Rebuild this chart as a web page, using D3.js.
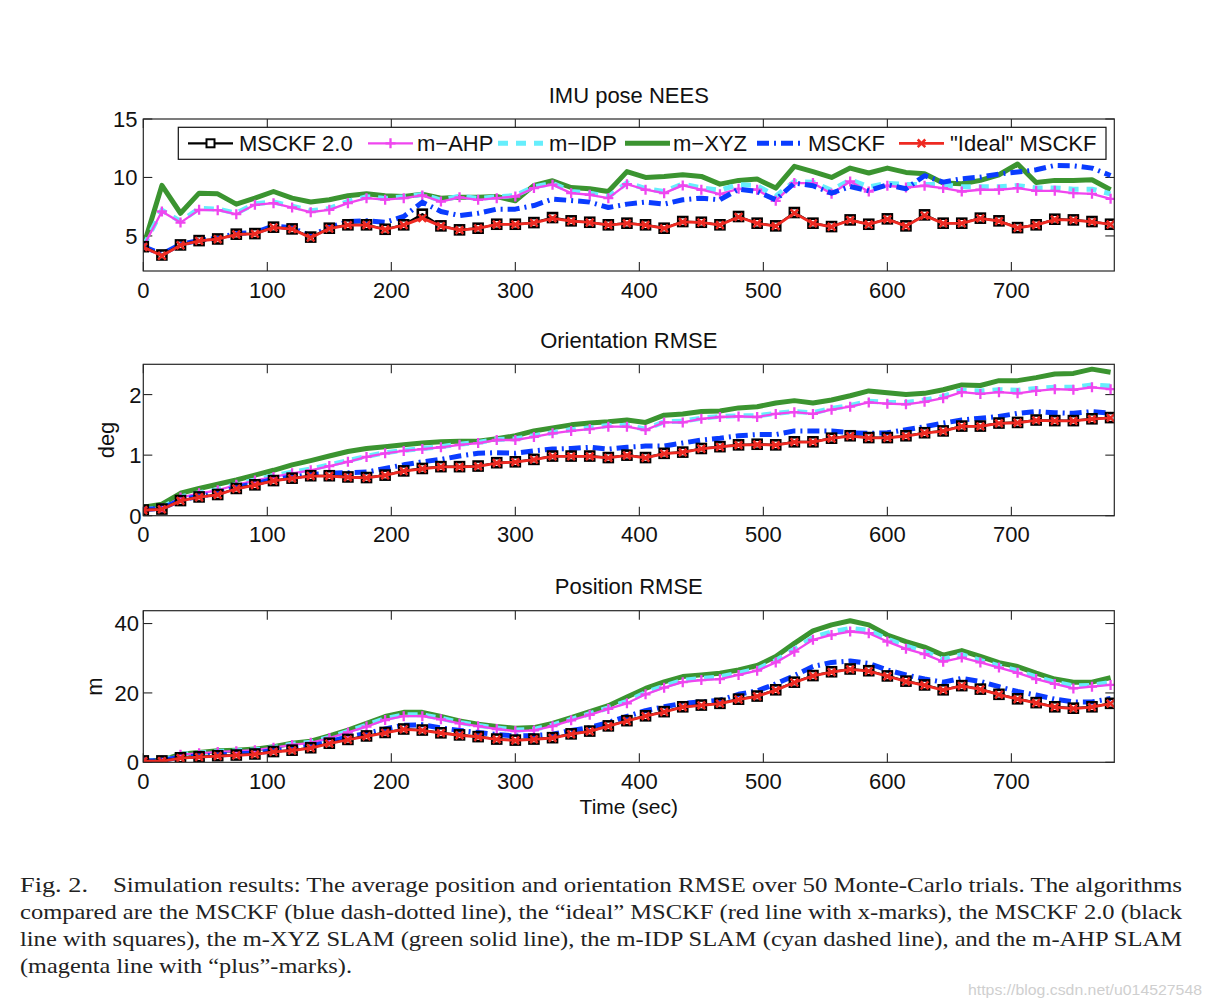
<!DOCTYPE html>
<html><head><meta charset="utf-8">
<script src="https://cdn.jsdelivr.net/npm/d3@7"></script>
<style>body{margin:0;background:#fff} svg{display:block}</style>
</head><body>
<svg id="c" width="1212" height="1006"></svg>
<script>
// ---------------- DATA ----------------
const times = [0,15,30,45,60,75,90,105,120,135,150,165,180,195,210,225,240,255,270,285,300,315,330,345,360,375,390,405,420,435,450,465,480,495,510,525,540,555,570,585,600,615,630,645,660,675,690,705,720,735,750,765,780];
const xTicks = [0,100,200,300,400,500,600,700];
const neesTicks = [5,10,15];
const oriTicks = [0,1,2];
const posTicks = [0,20,40];
const seriesNames = ["MSCKF 2.0","m\u2212AHP","m\u2212IDP","m\u2212XYZ","MSCKF","\"Ideal\" MSCKF"];

// IMU pose NEES
const neesMSCKF2 = [4.08,3.37,4.23,4.6,4.74,5.15,5.2,5.75,5.6,4.9,5.66,5.95,5.95,5.57,5.95,6.86,5.86,5.52,5.66,6.0,6.0,6.14,6.57,6.29,6.17,5.95,6.09,5.95,5.66,6.23,6.17,5.95,6.66,6.09,5.86,7.0,6.09,5.8,6.37,6.0,6.46,5.86,6.8,6.09,6.09,6.52,6.29,5.71,5.95,6.43,6.37,6.23,6.0];
const neesAHP = [4.08,7.09,6.14,7.23,7.2,6.86,7.66,7.8,7.43,7.03,7.23,7.8,8.23,8.1,8.23,8.46,7.94,8.3,8.09,8.23,8.37,9.09,9.38,8.66,8.52,8.23,9.43,8.95,8.66,9.32,8.95,8.57,9.03,8.95,8.0,9.52,9.52,8.6,9.66,8.8,9.29,9.14,9.29,9.09,8.8,8.95,8.95,9.09,8.86,8.86,8.66,8.6,8.17];
const neesIDP = [4.08,7.2,6.25,7.35,7.3,6.95,7.75,7.9,7.55,7.15,7.35,7.95,8.35,8.2,8.35,8.55,8.05,8.4,8.2,8.35,8.45,9.2,9.5,8.8,8.65,8.35,9.55,9.05,8.8,9.45,9.1,8.9,9.4,9.3,8.4,9.65,9.6,8.9,9.8,9.2,9.5,9.4,9.4,9.4,9.2,9.2,9.2,9.3,9.1,9.1,9.0,9.0,8.6];
const neesXYZ = [4.08,9.32,6.94,8.66,8.6,7.72,8.23,8.8,8.23,7.9,8.09,8.43,8.6,8.43,8.37,8.57,8.23,8.3,8.3,8.37,8.0,9.32,9.72,9.14,9.03,8.8,10.5,10.0,10.09,10.23,10.09,9.43,9.75,9.86,9.09,10.95,10.5,10.0,10.8,10.38,10.8,10.43,10.32,9.52,9.46,9.75,10.23,11.15,9.57,9.75,9.75,9.8,8.95];
const neesMSCKF = [4.08,3.45,4.28,4.62,4.8,5.2,5.3,5.85,5.7,5.0,5.72,6.23,6.3,6.17,6.66,7.89,7.09,6.74,6.94,7.29,7.29,7.6,8.15,8.03,7.89,7.43,7.72,7.89,7.72,8.09,8.23,8.09,9.0,8.8,8.09,9.52,9.29,8.66,9.23,8.86,9.38,9.03,10.15,9.6,9.89,10.03,10.29,10.46,10.66,11.03,11.0,10.8,10.17];
const neesIdeal = [4.05,3.3,4.2,4.58,4.72,5.12,5.18,5.72,5.58,4.85,5.63,5.92,5.93,5.55,5.92,6.52,5.84,5.5,5.64,5.98,5.98,6.12,6.5,6.27,6.15,5.93,6.07,5.93,5.64,6.2,6.15,5.93,6.62,6.07,5.84,6.95,6.07,5.78,6.35,5.98,6.43,5.84,6.75,6.07,6.07,6.5,6.27,5.69,5.93,6.4,6.35,6.2,5.98];

// Orientation RMSE (deg)
const oriMSCKF2 = [0.094,0.11,0.25,0.31,0.35,0.45,0.51,0.58,0.62,0.66,0.66,0.64,0.63,0.67,0.74,0.78,0.81,0.81,0.82,0.875,0.89,0.93,0.985,0.985,0.985,0.96,1.0,0.96,1.03,1.05,1.11,1.14,1.17,1.18,1.17,1.22,1.22,1.28,1.32,1.29,1.29,1.32,1.37,1.40,1.48,1.48,1.53,1.54,1.58,1.57,1.57,1.60,1.62];
const oriAHP = [0.094,0.12,0.30,0.37,0.42,0.51,0.58,0.64,0.70,0.75,0.82,0.89,0.97,1.03,1.07,1.10,1.13,1.17,1.20,1.25,1.25,1.30,1.36,1.40,1.43,1.47,1.47,1.415,1.54,1.54,1.60,1.63,1.64,1.63,1.68,1.71,1.68,1.75,1.80,1.87,1.85,1.84,1.88,1.94,2.04,2.01,2.04,2.02,2.06,2.09,2.08,2.12,2.09];
const oriIDP = [0.1,0.13,0.31,0.38,0.43,0.52,0.59,0.66,0.72,0.77,0.84,0.91,0.98,1.04,1.08,1.11,1.14,1.18,1.21,1.26,1.27,1.32,1.37,1.42,1.45,1.49,1.49,1.43,1.55,1.56,1.61,1.64,1.65,1.65,1.69,1.72,1.70,1.77,1.82,1.89,1.87,1.87,1.91,1.97,2.07,2.06,2.08,2.07,2.10,2.12,2.12,2.16,2.14];
const oriXYZ = [0.14,0.19,0.37,0.45,0.52,0.59,0.67,0.75,0.84,0.91,0.985,1.06,1.11,1.14,1.17,1.20,1.22,1.23,1.23,1.27,1.32,1.40,1.45,1.50,1.53,1.55,1.58,1.54,1.66,1.68,1.72,1.73,1.78,1.80,1.86,1.90,1.86,1.91,1.98,2.06,2.03,2.00,2.02,2.08,2.16,2.15,2.23,2.23,2.28,2.34,2.35,2.42,2.37];
const oriMSCKF = [0.1,0.12,0.26,0.32,0.37,0.47,0.53,0.6,0.64,0.68,0.70,0.71,0.72,0.78,0.84,0.89,0.93,0.985,1.03,1.04,1.03,1.07,1.10,1.11,1.13,1.10,1.13,1.15,1.15,1.20,1.25,1.28,1.32,1.34,1.34,1.40,1.40,1.40,1.37,1.36,1.37,1.42,1.47,1.53,1.58,1.61,1.64,1.69,1.72,1.70,1.69,1.72,1.69];
const oriIdeal = [0.09,0.105,0.245,0.305,0.345,0.445,0.505,0.575,0.615,0.655,0.655,0.635,0.625,0.665,0.735,0.775,0.805,0.805,0.815,0.87,0.885,0.925,0.98,0.98,0.98,0.955,0.995,0.955,1.025,1.045,1.105,1.135,1.165,1.175,1.165,1.215,1.215,1.275,1.315,1.285,1.285,1.315,1.365,1.395,1.475,1.475,1.525,1.535,1.575,1.565,1.565,1.595,1.615];

// Position RMSE (m)
const posMSCKF2 = [0.4,0.4,1.3,1.6,1.9,2.1,2.4,3.1,3.5,4.2,5.5,6.6,7.6,8.6,9.6,9.3,8.5,7.9,7.4,6.7,6.4,6.7,7.1,8.2,9.0,10.5,12.0,13.4,14.6,16.0,16.5,17.0,18.2,19.1,20.9,23.1,25.0,26.1,26.9,26.4,24.9,23.4,22.3,20.9,22.1,21.1,19.6,18.3,17.2,16.0,15.6,16.0,17.0];
const posAHP = [0.4,0.5,2.2,2.6,3.0,3.2,3.5,4.2,5.0,5.6,7.0,8.6,10.3,12.2,13.3,13.3,12.4,11.2,10.4,9.6,9.0,9.2,10.4,12.1,13.7,15.4,17.0,19.6,21.5,23.1,23.7,24.0,25.2,26.4,28.8,31.9,35.3,36.7,37.7,37.2,34.8,32.7,31.2,29.0,30.2,28.8,27.3,25.8,24.0,22.6,21.3,21.8,22.3];
const posIDP = [0.4,0.55,2.25,2.7,3.1,3.3,3.6,4.3,5.2,5.8,7.2,8.9,10.7,12.6,13.7,13.7,12.7,11.5,10.6,9.9,9.3,9.5,10.7,12.4,14.0,15.7,17.6,20.1,22.0,23.6,24.2,24.6,25.7,26.9,29.3,32.6,36.0,37.6,38.6,38.0,35.5,33.5,31.9,29.7,31.0,29.4,27.8,26.4,24.6,23.1,22.0,22.2,23.0];
const posXYZ = [0.4,0.6,2.3,2.8,3.3,3.5,3.8,4.5,5.5,6.1,7.6,9.3,11.2,13.2,14.4,14.4,13.2,11.9,11.0,10.3,9.8,10.0,11.2,12.9,14.6,16.3,18.8,21.3,23.2,24.7,25.2,25.7,26.6,27.9,30.5,34.3,37.9,39.6,40.8,39.6,36.7,34.8,33.2,30.9,32.2,30.5,28.7,27.6,25.7,24.0,23.1,23.1,24.4];
const posMSCKF = [0.4,0.5,1.5,1.8,2.1,2.4,2.7,3.4,3.9,4.6,6.0,7.3,8.3,9.6,10.7,10.8,9.9,9.2,8.6,8.0,7.6,7.7,8.1,9.2,10.0,11.5,13.2,14.9,16.0,17.0,17.4,17.9,19.6,20.6,22.6,25.0,27.6,28.8,29.2,28.5,26.6,25.2,24.0,23.1,24.2,23.3,21.8,20.4,19.4,18.2,17.4,17.4,18.4];
const posIdeal = [0.3,0.3,1.2,1.5,1.8,2.0,2.3,3.0,3.4,4.1,5.4,6.5,7.5,8.5,9.5,9.2,8.4,7.8,7.3,6.6,6.3,6.6,7.0,8.1,8.9,10.4,11.9,13.3,14.5,15.9,16.4,16.9,18.1,19.0,20.8,23.0,24.9,26.0,26.8,26.3,24.8,23.3,22.2,20.8,22.0,21.0,19.5,18.2,17.1,15.9,15.5,15.9,16.9];

// ---------------- STYLES ----------------
const styles = {
  "MSCKF 2.0": {color:"#000000", width:2.2, dash:null, marker:"square"},
  "m\u2212AHP": {color:"#ef46ef", width:2.3, dash:null, marker:"plus"},
  "m\u2212IDP": {color:"#66eefc", width:5, dash:"10,8", marker:null},
  "m\u2212XYZ": {color:"#3b9430", width:5, dash:null, marker:null},
  "MSCKF": {color:"#0a3cff", width:5, dash:"12,5,2,5", marker:null},
  "\"Ideal\" MSCKF": {color:"#ee2a22", width:2.8, dash:null, marker:"x"}
};
const drawOrder = ["m\u2212XYZ","m\u2212IDP","m\u2212AHP","MSCKF","MSCKF 2.0","\"Ideal\" MSCKF"];

const svg = d3.select("#c");
const FONT = "'Liberation Sans', Arial, Helvetica, sans-serif";
const xL = 143.3, xR = 1114.3;
const x = d3.scaleLinear().domain([0, 783]).range([xL, xR]);

const panels = [
  {title:"IMU pose NEES", top:119, bottom:271, domain:[2,15], ticks:neesTicks, ylabel:null, labelRight:137.5,
   data:{"MSCKF 2.0":neesMSCKF2,"m\u2212AHP":neesAHP,"m\u2212IDP":neesIDP,"m\u2212XYZ":neesXYZ,"MSCKF":neesMSCKF,"\"Ideal\" MSCKF":neesIdeal}},
  {title:"Orientation RMSE", top:364.3, bottom:515.7, domain:[0,2.5], ticks:oriTicks, ylabel:"deg", ylabelX:114, labelRight:141.5,
   data:{"MSCKF 2.0":oriMSCKF2,"m\u2212AHP":oriAHP,"m\u2212IDP":oriIDP,"m\u2212XYZ":oriXYZ,"MSCKF":oriMSCKF,"\"Ideal\" MSCKF":oriIdeal}},
  {title:"Position RMSE", top:610.7, bottom:762.3, domain:[0,43.7], ticks:posTicks, ylabel:"m", ylabelX:101.5, labelRight:139,
   data:{"MSCKF 2.0":posMSCKF2,"m\u2212AHP":posAHP,"m\u2212IDP":posIDP,"m\u2212XYZ":posXYZ,"MSCKF":posMSCKF,"\"Ideal\" MSCKF":posIdeal}}
];

function drawMarker(g, type, cx, cy, color, legend) {
  if (type === "square") {
    const s = legend ? 8 : 9;
    g.append("rect").attr("x", cx-s/2).attr("y", cy-s/2).attr("width", s).attr("height", s)
      .attr("fill", legend ? "#fff" : "none").attr("stroke", color).attr("stroke-width", legend ? 2 : 2.6);
  } else if (type === "plus") {
    g.append("path").attr("d", `M${cx-5},${cy}H${cx+5}M${cx},${cy-5}V${cy+5}`)
      .attr("stroke", color).attr("stroke-width", 2.3).attr("fill","none");
  } else if (type === "x") {
    g.append("path").attr("d", `M${cx-3.8},${cy-3.8}L${cx+3.8},${cy+3.8}M${cx-3.8},${cy+3.8}L${cx+3.8},${cy-3.8}`)
      .attr("stroke", color).attr("stroke-width", 2.5).attr("fill","none");
  }
}

panels.forEach((p, pi) => {
  const y = d3.scaleLinear().domain(p.domain).range([p.bottom, p.top]);
  const g = svg.append("g");
  const clipId = "clip" + pi;
  svg.append("clipPath").attr("id", clipId).append("rect")
    .attr("x", xL).attr("y", p.top).attr("width", xR - xL).attr("height", p.bottom - p.top);

  const tg = g.append("g").attr("stroke", "#262626").attr("stroke-width", 1.1);
  xTicks.forEach(t => {
    const xx = x(t);
    tg.append("line").attr("x1", xx).attr("x2", xx).attr("y1", p.bottom).attr("y2", p.bottom - 9);
    tg.append("line").attr("x1", xx).attr("x2", xx).attr("y1", p.top).attr("y2", p.top + 9);
  });
  p.ticks.forEach(t => {
    const yy = y(t);
    tg.append("line").attr("x1", xL).attr("x2", xL + 9).attr("y1", yy).attr("y2", yy);
    tg.append("line").attr("x1", xR).attr("x2", xR - 9).attr("y1", yy).attr("y2", yy);
  });

  const sg = g.append("g").attr("clip-path", `url(#${clipId})`);
  const line = d3.line().x((d,i) => x(times[i])).y(d => y(d));
  drawOrder.forEach(name => {
    const st = styles[name];
    const vals = p.data[name];
    const path = sg.append("path").datum(vals).attr("d", line)
      .attr("fill", "none").attr("stroke", st.color).attr("stroke-width", st.width)
      .attr("stroke-linejoin", "round");
    if (st.dash) path.attr("stroke-dasharray", st.dash);
    if (st.marker) {
      const mg = sg.append("g");
      vals.forEach((v, i) => drawMarker(mg, st.marker, x(times[i]), y(v), st.color, false));
    }
  });

  g.append("rect").attr("x", xL).attr("y", p.top).attr("width", xR - xL).attr("height", p.bottom - p.top)
    .attr("fill", "none").attr("stroke", "#262626").attr("stroke-width", 1.2);

  xTicks.forEach(t => {
    g.append("text").attr("x", x(t)).attr("y", p.bottom + 26.5).attr("text-anchor", "middle")
      .attr("font-family", FONT).attr("font-size", 22).attr("fill", "#111").text(t);
  });
  p.ticks.forEach(t => {
    g.append("text").attr("x", p.labelRight).attr("y", y(t)).attr("dy", "0.36em").attr("text-anchor", "end")
      .attr("font-family", FONT).attr("font-size", 22).attr("fill", "#111").text(t);
  });
  g.append("text").attr("x", (xL + xR) / 2).attr("y", p.top - 16.5).attr("text-anchor", "middle")
    .attr("font-family", FONT).attr("font-size", 22).attr("fill", "#111").text(p.title);
  if (p.ylabel) {
    const cy = (p.top + p.bottom) / 2;
    g.append("text").attr("transform", `translate(${p.ylabelX},${cy}) rotate(-90)`).attr("text-anchor", "middle")
      .attr("font-family", FONT).attr("font-size", 22).attr("fill", "#111").text(p.ylabel);
  }
});

svg.append("text").attr("x", (xL + xR) / 2).attr("y", 814).attr("text-anchor", "middle")
  .attr("font-family", FONT).attr("font-size", 21).attr("fill", "#111").text("Time (sec)");

// legend
const lg = svg.append("g");
lg.append("rect").attr("x", 178.3).attr("y", 127.3).attr("width", 1106 - 178.3).attr("height", 32)
  .attr("fill", "#fff").attr("stroke", "#111").attr("stroke-width", 1.2);
const sampleX = [188, 368, 498, 625, 757, 899];
const textX = [239, 417, 549, 673, 808, 950];
const legY = 143.3;
seriesNames.forEach((name, i) => {
  const st = styles[name];
  const l = lg.append("line").attr("x1", sampleX[i]).attr("x2", sampleX[i] + 45).attr("y1", legY).attr("y2", legY)
    .attr("stroke", st.color).attr("stroke-width", st.width);
  if (st.dash) l.attr("stroke-dasharray", st.dash);
  if (st.marker) drawMarker(lg, st.marker, sampleX[i] + 22.5, legY, st.color, true);
  lg.append("text").attr("x", textX[i]).attr("y", legY).attr("dy", "0.36em")
    .attr("font-family", FONT).attr("font-size", 22).attr("fill", "#111").text(name);
});

// caption
const SERIF = "'Liberation Serif', 'Times New Roman', serif";
const cap = svg.append("g").attr("font-family", SERIF).attr("font-size", 22).attr("fill", "#222");
cap.append("text").attr("x", 20).attr("y", 892).attr("textLength", 68).attr("lengthAdjust", "spacingAndGlyphs").text("Fig. 2.");
const capLines = [
  {x:113, y:892, w:1069, t:"Simulation results: The average position and orientation RMSE over 50 Monte-Carlo trials. The algorithms"},
  {x:20, y:919, w:1162, t:"compared are the MSCKF (blue dash-dotted line), the \u201cideal\u201d MSCKF (red line with x-marks), the MSCKF 2.0 (black"},
  {x:20, y:946, w:1162, t:"line with squares), the m-XYZ SLAM (green solid line), the m-IDP SLAM (cyan dashed line), and the m-AHP SLAM"},
  {x:20, y:973, w:332, t:"(magenta line with \u201cplus\u201d-marks)."}
];
capLines.forEach(c => {
  cap.append("text").attr("x", c.x).attr("y", c.y).attr("textLength", c.w).attr("lengthAdjust", "spacingAndGlyphs").text(c.t);
});

svg.append("text").attr("x", 968).attr("y", 995).attr("textLength", 234).attr("lengthAdjust", "spacingAndGlyphs")
  .attr("font-family", FONT).attr("font-size", 15).attr("fill", "#cfcfcf").text("https://blog.csdn.net/u014527548");
</script>
</body></html>
